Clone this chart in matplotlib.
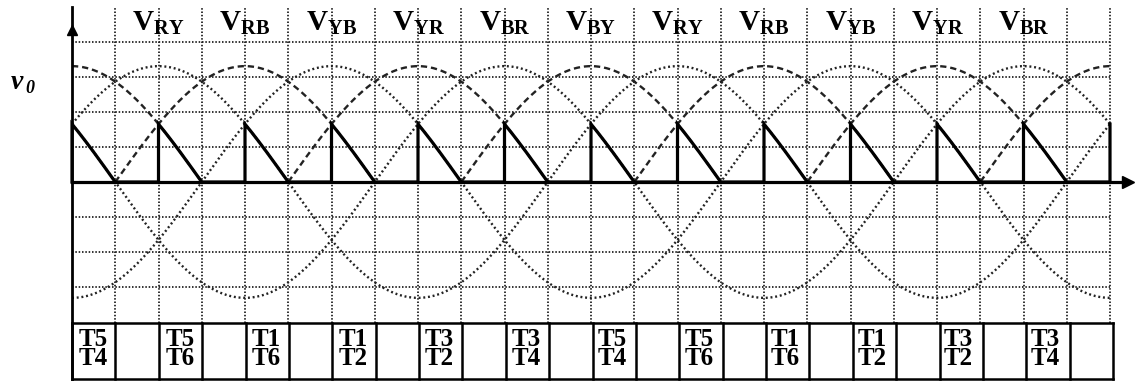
import numpy as np
import matplotlib.pyplot as plt

plt.rcParams['lines.scale_dashes'] = False
plt.rcParams['mathtext.fontset'] = 'custom'
plt.rcParams['mathtext.rm'] = 'Liberation Serif'
plt.rcParams['mathtext.bf'] = 'Liberation Serif:bold'
plt.rcParams['mathtext.it'] = 'Liberation Serif:italic:bold'

# one grid step = 30 degrees, one vertical grid unit = one division
amplitude = 3.31                 # peak of the line voltages
phase_peaks = [2, 6, 10]         # step where each line voltage peaks (period 12 steps)
period = 12
n_steps = 24
firing_steps = list(range(0, 24, 2))   # output jumps here
last_step = 24

label_steps = [2, 4, 6, 8, 10, 12, 14, 16, 18, 20, 22]
top_labels = ['RY', 'RB', 'YB', 'YR', 'BR', 'BY', 'RY', 'RB', 'YB', 'YR', 'BR']

cell_steps = [0, 2, 4, 6, 8, 10, 12, 14, 16, 18, 20, 22]
upper_thy = ['T5', 'T5', 'T1', 'T1', 'T3', 'T3', 'T5', 'T5', 'T1', 'T1', 'T3', 'T3']
lower_thy = ['T4', 'T6', 'T6', 'T2', 'T2', 'T4', 'T4', 'T6', 'T6', 'T2', 'T2', 'T4']

grid_levels = [4, 3, 2, 1, -1, -2, -3]
grid_top = 5.0
table_top = -4.03
table_bottom = -5.63

fig = plt.figure(figsize=(11.36, 3.81), dpi=100)
ax = fig.add_axes([0, 0, 1, 1])
ax.set_xlim(-72 / 43.25, (1136 - 72) / 43.25)
ax.set_ylim(-(381 - 182) / 35, 182 / 35)
ax.axis('off')

grid_style = dict(color='#1a1a1a', lw=1.25, linestyle=(0, (1.1, 1.3)), dash_capstyle='butt')
for k in range(1, n_steps + 1):
    ax.plot([k, k], [table_top, grid_top], **grid_style)
for g in grid_levels:
    ax.plot([0, n_steps], [g, g], **grid_style)

x = np.linspace(0, n_steps, 3000)
w = 2 * np.pi / period
for p in phase_peaks:
    v = amplitude * np.cos((x - p) * w)
    ax.plot(x, v, color='#222222', lw=1.7, linestyle=(0, (1.4, 2.0)), dash_capstyle='butt')
    neg = np.where(-v >= 0, -v, np.nan)
    ax.plot(x, neg, color='#222222', lw=1.7, linestyle=(0, (4.5, 2.8)), dash_capstyle='butt')

# output voltage
xs, ys = [], []
for f in firing_steps:
    seg = np.linspace(f, f + 1, 60)
    xs += [f] + list(seg) + [f + 2]
    ys += [0] + list(amplitude * np.cos((seg - (f - 2)) * w)) + [0]
xs += [last_step]
ys += [amplitude * np.cos(2 * w)]
ax.plot(xs, ys, color='black', lw=2.3, solid_joinstyle='miter')

# axes
ax.plot([0, 0], [table_bottom, grid_top], color='black', lw=2.0)
ax.plot(0, 4.35, marker='^', color='black', ms=7)
ax.plot([0, 24.45], [0, 0], color='black', lw=2.3)
ax.plot(24.42, 0, marker='>', color='black', ms=9)

# thyristor table
ax.plot([0, n_steps + 0.07], [table_top, table_top], color='black', lw=1.8)
ax.plot([0, n_steps + 0.07], [table_bottom, table_bottom], color='black', lw=1.8)
for k in range(0, n_steps + 1):
    ax.plot([k + 0.07 * k / n_steps] * 2, [table_bottom, table_top], color='black', lw=1.8)
for s, t1, t2 in zip(cell_steps, upper_thy, lower_thy):
    ax.text(s + 0.5, -4.77, t1 + '\n' + t2, ha='center', va='center', fontsize=18,
            family='Liberation Serif', weight='bold', linespacing=0.82)

for s, lab in zip(label_steps, top_labels):
    ax.text(s, 4.55, r'$\mathbf{V}_{\mathbf{%s}}$' % lab, ha='center', va='center', fontsize=21)

ax.text(-1.27, 2.84, 'v', ha='center', va='center', fontsize=20,
        family='Liberation Serif', weight='bold', style='italic')
ax.text(-0.98, 2.68, '0', ha='center', va='center', fontsize=13,
        family='Liberation Serif', weight='bold', style='italic')

fig.savefig('out.png', dpi=100)
